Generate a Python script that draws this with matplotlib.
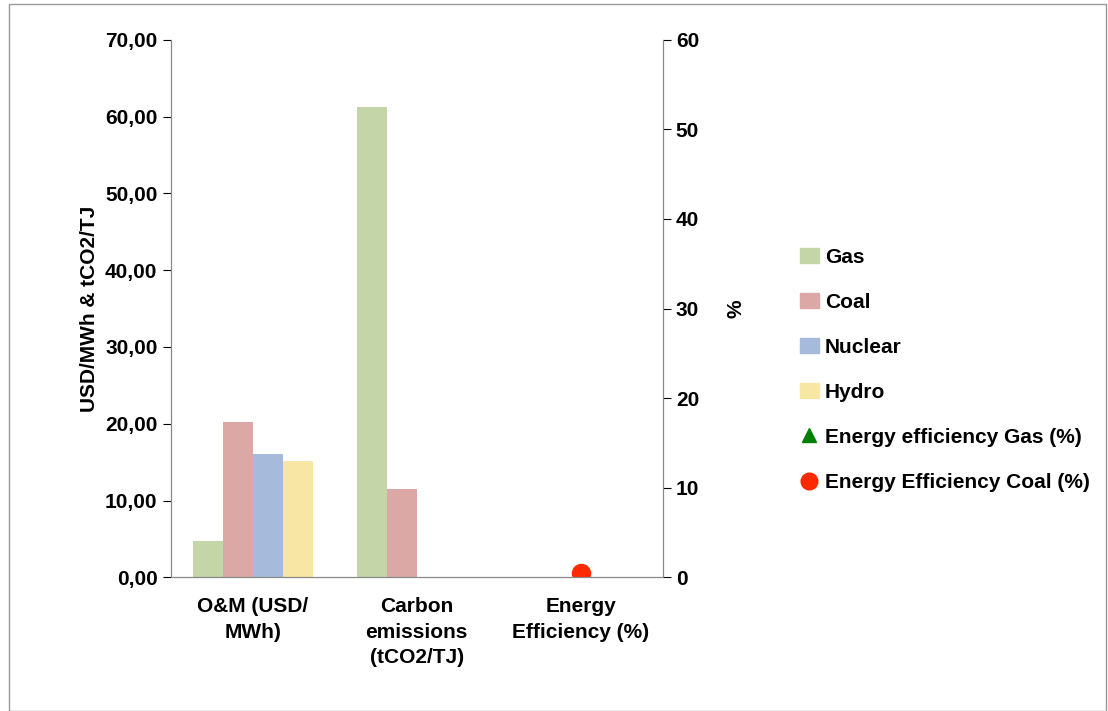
import numpy as np
import matplotlib.pyplot as plt
from matplotlib.lines import Line2D
from matplotlib.patches import Patch
from matplotlib.ticker import FuncFormatter

plt.rcParams['font.family'] = ['Liberation Sans', 'DejaVu Sans']
plt.rcParams['font.weight'] = 'bold'

categories = ["O&M (USD/\nMWh)", "Carbon\nemissions\n(tCO2/TJ)", "Energy\nEfficiency (%)"]
series = ["Gas", "Coal", "Nuclear", "Hydro"]
values = {
    "Gas": [4.7, 61.2, 0],
    "Coal": [20.2, 11.5, 0],
    "Nuclear": [16.0, 0, 0],
    "Hydro": [15.2, 0, 0],
}
colors = ["#c4d6a8", "#dba8a6", "#a6bbdb", "#f8e6a4"]
eff_gas = 0.4
eff_coal = 0.5

fig = plt.figure(figsize=(11.08, 7.11), dpi=100)
ax = fig.add_axes([0.154, 0.188, 0.444, 0.756])
x = np.arange(len(categories))
w = 0.183
for i, s in enumerate(series):
    ax.bar(x + (i - 1.5) * w, values[s], w, color=colors[i], zorder=2)
ax.set_xlim(-0.5, 2.5)
ax.set_ylim(0, 70)
ax.set_yticks(range(0, 71, 10))
ax.yaxis.set_major_formatter(FuncFormatter(lambda v, p: f"{v:.2f}".replace(".", ",")))
ax.set_xticks(x)
ax.set_xticklabels(categories, fontsize=15, fontweight='bold', linespacing=1.45)
ax.tick_params(axis='x', length=0, pad=14)
ax.tick_params(axis='y', labelsize=15, direction='out', length=6)
ax.set_ylabel("USD/MWh & tCO2/TJ", fontsize=15, fontweight='bold')
ax.spines['top'].set_visible(False)
for s in ['left', 'right', 'bottom']:
    ax.spines[s].set_color('#888888')

ax2 = ax.twinx()
ax2.set_ylim(0, 60)
ax2.set_yticks(range(0, 61, 10))
ax2.tick_params(axis='y', labelsize=15, direction='out', length=6)
ax2.set_ylabel("%", fontsize=15, fontweight='bold', labelpad=20)
ax2.plot([2], [eff_gas], marker='^', color='green', markersize=10, linestyle='none')
ax2.plot([2], [eff_coal], marker='o', color='#ff2a00', markersize=13, linestyle='none')
ax2.spines['top'].set_visible(False)
for s in ['left', 'right', 'bottom']:
    ax2.spines[s].set_color('#888888')

handles = [Patch(color=c, label=s) for s, c in zip(series, colors)]
handles += [Line2D([], [], marker='^', color='green', linestyle='none', markersize=10, label="Energy efficiency Gas (%)"),
            Line2D([], [], marker='o', color='#ff2a00', linestyle='none', markersize=12, label="Energy Efficiency Coal (%)")]
fig.legend(handles=handles, loc='center left', bbox_to_anchor=(0.705, 0.48), frameon=False,
           fontsize=15, handlelength=0.9, handletextpad=0.3, labelspacing=1.25)

fig.patches.append(plt.Rectangle((0.008, 0.0), 0.99, 0.995, transform=fig.transFigure,
                                 fill=False, edgecolor='#999999', linewidth=1))
fig.savefig("out.png")
